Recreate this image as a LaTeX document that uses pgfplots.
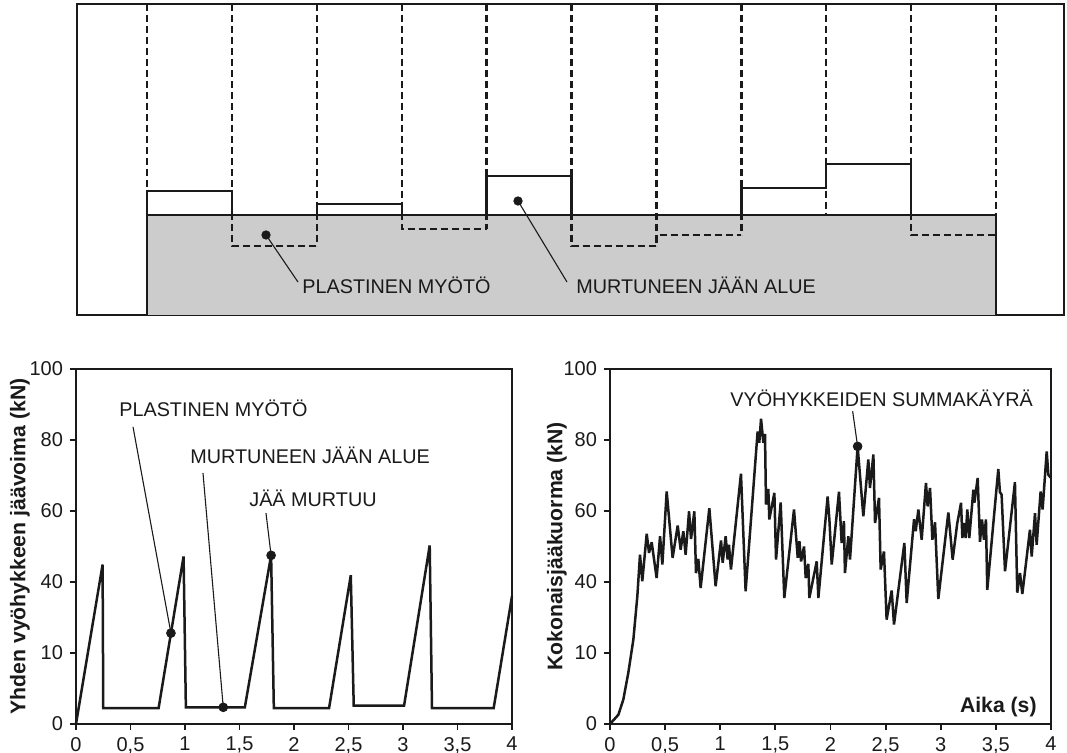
\documentclass[border=0pt]{standalone}
\usepackage{pgfplots}
\pgfplotsset{compat=1.18}
\usepackage{fontspec}
\setmainfont{Liberation Sans}
\definecolor{ink}{HTML}{1A1A1A}
\definecolor{fillgray}{HTML}{CCCCCC}
\newcommand{\annfont}{\fontsize{9.9}{11}\selectfont}
\newcommand{\tickfont}{\fontsize{10}{11}\selectfont}
\newcommand{\labfont}{\fontsize{10.6}{12}\selectfont\bfseries}
\pgfplotsset{
  bottomplot/.style={
    anchor=south west, scale only axis, height=177.5pt,
    xmin=0, xmax=4, ymin=0, ymax=100, clip=false,
    axis line style={line width=1.4pt, ink},
    tick style={line width=0.9pt, ink},
    tick align=outside,
    xtick={0,0.5,1,1.5,2,2.5,3,3.5,4},
    xticklabels={0,{0,5},1,{1,5},2,{2,5},3,{3,5},4},
    ytick={0,20,40,60,80,100},
    yticklabels={0,10,40,60,80,100},
    x tick label style={font=\tickfont, text=ink},
    y tick label style={font=\tickfont, text=ink},
    xtick pos=bottom, ytick pos=left,
    major tick length=3pt,
    /pgf/number format/assume math mode=true,
  },
  curve/.style={line width=1.25pt, ink, line join=miter, miter limit=4},
}
\begin{document}
\begin{tikzpicture}
\useasboundingbox (0,0) rectangle (533.5pt,376.5pt);
\fill[white] (0,0) rectangle (533.5pt,376.5pt);
% ---------------- top schematic ----------------
\begin{axis}[at={(38.5pt,219pt)}, anchor=south west, scale only axis,
  width=493.5pt, height=155.5pt,
  xmin=-0.8245, xmax=10.801, ymin=0, ymax=311,
  xtick=\empty, ytick=\empty, clip=false,
  axis line style={line width=1.3pt, ink}]
\addplot[fill=fillgray, draw=ink, line width=1.2pt] coordinates {(0,0) (0,100) (10,100) (10,0)};
\pgfplotsset{dsh/.style={ink, line width=1.2pt, dash pattern=on 3.5pt off 2pt}}
\addplot[dsh] coordinates {(0,311) (0,100)};
\addplot[dsh] coordinates {(1,311) (1,69) (2,69)};
\addplot[dsh] coordinates {(2,311) (2,69)};
\addplot[dsh] coordinates {(3,311) (3,86) (4,86)};
\addplot[dsh] coordinates {(4,311) (4,86)};
\addplot[dsh] coordinates {(5,311) (5,69) (6,69) (6,80) (7,80)};
\addplot[dsh] coordinates {(6,311) (6,69)};
\addplot[dsh] coordinates {(7,311) (7,80)};
\addplot[dsh] coordinates {(8,311) (8,100)};
\addplot[dsh] coordinates {(9,311) (9,80) (10,80)};
\addplot[dsh] coordinates {(10,311) (10,80)};
\addplot[ink, line width=1.2pt] coordinates {(0,100) (0,124) (1,124) (1,100)};
\addplot[ink, line width=1.2pt] coordinates {(2,100) (2,111) (3,111) (3,100)};
\addplot[ink, line width=1.2pt] coordinates {(4,100) (4,139) (5,139) (5,100)};
\addplot[ink, line width=1.2pt] coordinates {(7,100) (7,127) (8,127) (8,151) (9,151) (9,100)};
\draw[ink, line width=0.55pt] (axis cs:1.402,80) -- (axis cs:1.778,33);
\draw[ink, line width=0.55pt] (axis cs:4.370,114) -- (axis cs:4.947,33);
\addplot[only marks, mark=*, mark size=2.1pt, ink] coordinates {(1.402,80) (4.370,114)};
\node[anchor=west, inner sep=0, font=\annfont, text=ink] at (axis cs:1.826,30) {PLASTINEN MYÖTÖ};
\node[anchor=west, inner sep=0, font=\annfont, text=ink] at (axis cs:5.053,30) {MURTUNEEN JÄÄN ALUE};
\end{axis}
% ---------------- bottom left ----------------
\begin{axis}[bottomplot, at={(38pt,14.5pt)}, width=218pt]
\addplot[curve] coordinates {
(0,0) (0.244,44.9) (0.25,4.5) (0.758,4.5) (0.987,47.2) (1.008,4.7)
(1.549,4.7) (1.79,47.5) (1.815,4.5) (2.322,4.5) (2.521,41.9) (2.548,5.2)
(3.01,5.2) (3.245,50.3) (3.266,4.5) (3.832,4.5) (4,36)};
\draw[ink, line width=0.55pt] (axis cs:0.523,83.7) -- (axis cs:0.871,25.6);
\draw[ink, line width=0.55pt] (axis cs:1.165,70.7) -- (axis cs:1.351,4.7);
\draw[ink, line width=0.55pt] (axis cs:1.743,59.4) -- (axis cs:1.79,47.5);
\addplot[only marks, mark=*, mark size=2.2pt, ink] coordinates {(0.871,25.6) (1.351,4.7) (1.79,47.5)};
\node[anchor=west, inner sep=0, font=\annfont, text=ink] at (axis cs:0.394,89.0) {PLASTINEN MYÖTÖ};
\node[anchor=west, inner sep=0, font=\annfont, text=ink] at (axis cs:1.046,75.8) {MURTUNEEN JÄÄN ALUE};
\node[anchor=west, inner sep=0, font=\annfont, text=ink] at (axis cs:1.587,63.7) {JÄÄ MURTUU};
\node[rotate=90, anchor=center, inner sep=0, font=\labfont, text=ink] at ([xshift=-28pt]rel axis cs:0,0.5) {Yhden vyöhykkeen jäävoima (kN)};
\end{axis}
% ---------------- bottom right ----------------
\begin{axis}[bottomplot, at={(305pt,14.5pt)}, width=220.5pt]
\addplot[curve] coordinates {
(0,0) (0.076,2.6) (0.121,6.9) (0.166,14.4) (0.212,23.8) (0.248,36.0)
(0.272,47.7) (0.293,40.2) (0.333,53.6) (0.354,48.2) (0.378,51.2) (0.423,41.1)
(0.454,52.9) (0.475,44.9) (0.514,65.5) (0.568,46.8) (0.614,55.9) (0.641,49.1)
(0.665,54.3) (0.686,47.7) (0.717,59.9) (0.735,52.1) (0.765,59.9) (0.780,42.5)
(0.801,46.5) (0.822,38.3) (0.901,60.8) (0.958,38.8) (1.007,51.7) (1.022,45.4)
(1.049,52.9) (1.067,46.3) (1.079,50.5) (1.097,43.5) (1.188,70.5) (1.230,37.4)
(1.339,82.4) (1.354,79.2) (1.370,86.0) (1.391,79.2) (1.406,81.7) (1.415,61.8)
(1.436,66.2) (1.445,57.6) (1.491,65.1) (1.506,46.3) (1.548,62.4) (1.581,35.5)
(1.669,60.4) (1.703,46.8) (1.718,51.5) (1.733,45.8) (1.760,50.0) (1.775,41.1)
(1.799,45.1) (1.808,35.5) (1.875,45.8) (1.890,35.5) (1.974,64.1) (1.990,57.6)
(2.011,44.9) (2.077,65.4) (2.101,51.0) (2.122,57.1) (2.131,42.5) (2.162,52.9)
(2.177,46.3) (2.246,78.2) (2.298,58.5) (2.343,74.5) (2.358,66.5) (2.389,75.9)
(2.404,56.6) (2.440,63.7) (2.455,43.5) (2.485,48.6) (2.509,29.4) (2.555,37.6)
(2.576,28.0) (2.670,51.0) (2.691,34.1) (2.758,57.7) (2.773,54.3) (2.797,60.4)
(2.827,51.9) (2.866,67.9) (2.881,61.3) (2.903,66.5) (2.924,51.9) (2.948,56.8)
(2.978,35.2) (3.069,59.6) (3.108,46.3) (3.150,56.6) (3.166,59.2) (3.184,62.3)
(3.196,52.4) (3.211,56.6) (3.226,52.4) (3.241,60.4) (3.259,52.4) (3.296,66.0)
(3.305,62.3) (3.335,69.3) (3.356,51.3) (3.374,57.6) (3.392,51.9) (3.410,57.6)
(3.422,37.8) (3.522,71.8) (3.537,65.3) (3.552,64.6) (3.583,43.0) (3.673,68.1)
(3.694,37.0) (3.719,42.5) (3.740,36.6) (3.809,54.7) (3.825,47.2) (3.855,59.4)
(3.870,50.5) (3.906,65.5) (3.924,60.4) (3.961,76.8) (3.976,70.2) (4.0,69.3)};
\draw[ink, line width=0.55pt] (axis cs:2.201,88.1) -- (axis cs:2.246,78.2);
\addplot[only marks, mark=*, mark size=2.2pt, ink] coordinates {(2.246,78.2)};
\node[anchor=west, inner sep=0, font=\annfont, text=ink] at (axis cs:1.088,91.8) {VYÖHYKKEIDEN SUMMAKÄYRÄ};
\node[anchor=east, inner sep=0, font=\labfont, text=ink] at ([xshift=-7pt,yshift=8.5pt]rel axis cs:1,0) {Aika (s)};
\node[rotate=90, anchor=center, inner sep=0, font=\labfont, text=ink] at ([xshift=-26.5pt]rel axis cs:0,0.5) {Kokonaisjääkuorma (kN)};
\end{axis}
\end{tikzpicture}
\end{document}
